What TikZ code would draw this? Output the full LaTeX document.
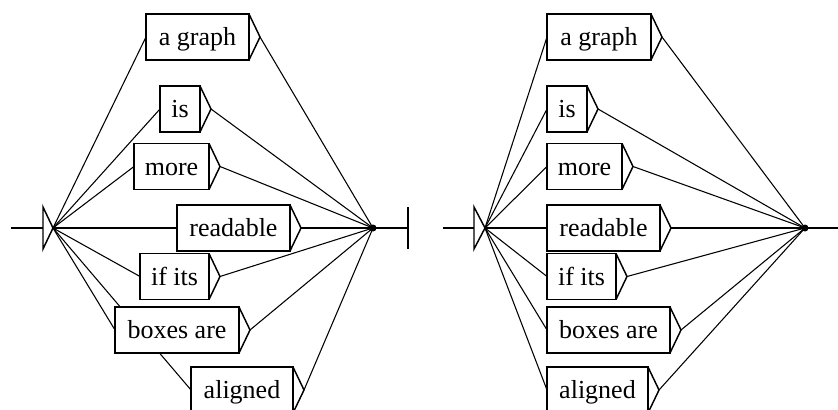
\documentclass[tikz,border=0pt]{standalone}
\usepackage{fontspec}
\setmainfont{Liberation Serif}
\usetikzlibrary{backgrounds}
\newlength\pxu \setlength\pxu{0.75pt}
\tikzset{
  wbox/.style={draw, line width=1.1pt, fill=white, inner sep=0pt, outer sep=0pt,
    minimum height=46\pxu, text height=17\pxu, text depth=0pt,
    font=\rmfamily\fontsize{19.5}{21}\selectfont, anchor=west},
  conn/.style={line width=0.8pt},
  boxline/.style={line width=1.1pt, line join=miter},
  mainline/.style={line width=1.3pt},
  findot/.style={circle, fill, inner sep=0pt, minimum size=7\pxu}
}
\begin{document}
\begin{tikzpicture}[x=0.75pt, y=-0.75pt]
\useasboundingbox (0,0) rectangle (838,410);
\clip (0,0) rectangle (838,410);
% left graph
\node[wbox, minimum width=103\pxu] (L-ag) at (146,37) {a graph};
\node[wbox, minimum width=40\pxu]  (L-is) at (160,109) {is};
\node[wbox, minimum width=75\pxu]  (L-mo) at (134,166.5) {more};
\node[wbox, minimum width=113\pxu] (L-re) at (177,228) {readable};
\node[wbox, minimum width=69\pxu]  (L-if) at (140,276.5) {if its};
\node[wbox, minimum width=124\pxu] (L-bx) at (115,330) {boxes are};
\node[wbox, minimum width=102\pxu] (L-al) at (191,390) {aligned};
% right graph
\node[wbox, minimum width=104\pxu] (R-ag) at (547,37) {a graph};
\node[wbox, minimum width=40\pxu]  (R-is) at (547,109) {is};
\node[wbox, minimum width=75\pxu]  (R-mo) at (547,166.5) {more};
\node[wbox, minimum width=113\pxu] (R-re) at (547,228) {readable};
\node[wbox, minimum width=69\pxu]  (R-if) at (547,276.5) {if its};
\node[wbox, minimum width=123\pxu] (R-bx) at (547,330) {boxes are};
\node[wbox, minimum width=101\pxu] (R-al) at (547,390) {aligned};
% initial and final states
\coordinate (L-st) at (11,228);
\coordinate (L-tb) at (43,228);
\coordinate (L-in) at (53,228);
\node[findot] (L-fin) at (373,228) {};
\coordinate (L-end) at (408,228);
\coordinate (R-st) at (443,228);
\coordinate (R-tb) at (474,228);
\coordinate (R-in) at (485,228);
\node[findot] (R-fin) at (805,228) {};
\coordinate (R-end) at (850,228);
\foreach \s in {L,R}{
  \draw[mainline] (\s-st) -- (\s-tb);
  \draw[boxline] ([yshift=21\pxu]\s-tb) -- ([yshift=-21\pxu]\s-tb) -- (\s-in) -- cycle;
  \draw[mainline] (\s-fin.center) -- (\s-end);
  \foreach \b in {ag,is,mo,re,if,bx,al}{
    \coordinate (\s-\b-t) at ([xshift=11\pxu]\s-\b.east);
    \draw[boxline] (\s-\b.north east) -- (\s-\b-t) -- (\s-\b.south east);
  }
}
\draw[mainline] ([yshift=21\pxu]L-end) -- ([yshift=-21\pxu]L-end);
% connectors behind the boxes
\begin{pgfonlayer}{background}
\fill[white] (0,0) rectangle (838,410);
\foreach \s in {L,R}{
  \foreach \b in {ag,is,mo,re,if,bx,al}{
    \draw[conn] (\s-in) -- (\s-\b.west);
    \draw[conn] (\s-\b-t) -- (\s-fin.center);
  }
}
\end{pgfonlayer}
\end{tikzpicture}
\end{document}
